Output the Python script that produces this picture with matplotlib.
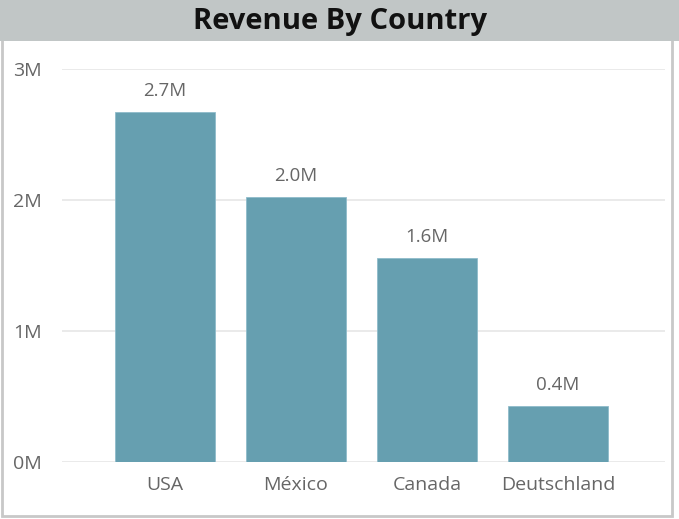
import matplotlib
matplotlib.use("Agg")
import matplotlib.pyplot as plt
import matplotlib.transforms as mtrans
from matplotlib.patches import Rectangle

countries = ["USA", "México", "Canada", "Deutschland"]
revenue = [2.67, 2.02, 1.56, 0.43]  # millions
value_labels = ["2.7M", "2.0M", "1.6M", "0.4M"]
y_ticks = [0, 1, 2, 3]
y_tick_labels = ["0M", "1M", "2M", "3M"]
title = "Revenue By Country"

plt.rcParams['font.family'] = ['Open Sans', 'DejaVu Sans']

W, H = 679, 519
fig = plt.figure(figsize=(W/100, H/100), dpi=100)
fig.patch.set_facecolor("white")

# frame border
fig.patches.append(Rectangle((1.5/W, 3.5/H), (672-1.5)/W, (H-3.5-1)/H, transform=fig.transFigure,
                             facecolor="none", edgecolor="#c8c8c8", linewidth=2, zorder=0))
# title bar
fig.patches.append(Rectangle((0, (H-41)/H), 1, 41/H, transform=fig.transFigure,
                             facecolor="#c1c6c6", edgecolor="none", zorder=1))
fig.text(340/W, 1-22/H, title, ha="center", va="center", fontsize=21, fontweight="bold", color="#111111")

ax = fig.add_axes([62/W, (H-462)/H, (665-62)/W, (462-69)/H])
ax.set_facecolor("none")
x = list(range(len(countries)))
ax.bar(x, revenue, width=0.763, color="#669fb0", edgecolor="#8fbccb", linewidth=0.6, zorder=3)
for xi, v, lab in zip(x, revenue, value_labels):
    ax.annotate(lab, (xi, v), xytext=(0, 12), textcoords="offset pixels",
                ha="center", va="bottom", fontsize=13.5, color="#666666")

ax.set_xlim(-0.786, 3.817)
ax.set_ylim(0, 3)
ax.set_yticks(y_ticks)
ax.set_yticklabels(y_tick_labels)
ax.set_xticks(x)
ax.set_xticklabels(countries)
ax.grid(axis="y", color="#e6e6e6", linewidth=1.2, zorder=0)
ax.set_axisbelow(True)
for s in ax.spines.values():
    s.set_visible(False)
ax.tick_params(axis="both", length=0, labelsize=14, labelcolor="#666666")
ax.tick_params(axis="x", pad=10)
ax.yaxis.set_tick_params(pad=0)
offset = mtrans.ScaledTranslation(-(62-13)/100, 0, fig.dpi_scale_trans)
for t in ax.get_yticklabels():
    t.set_transform(t.get_transform() + offset)
    t.set_horizontalalignment("left")

fig.savefig("out.png", dpi=100)
